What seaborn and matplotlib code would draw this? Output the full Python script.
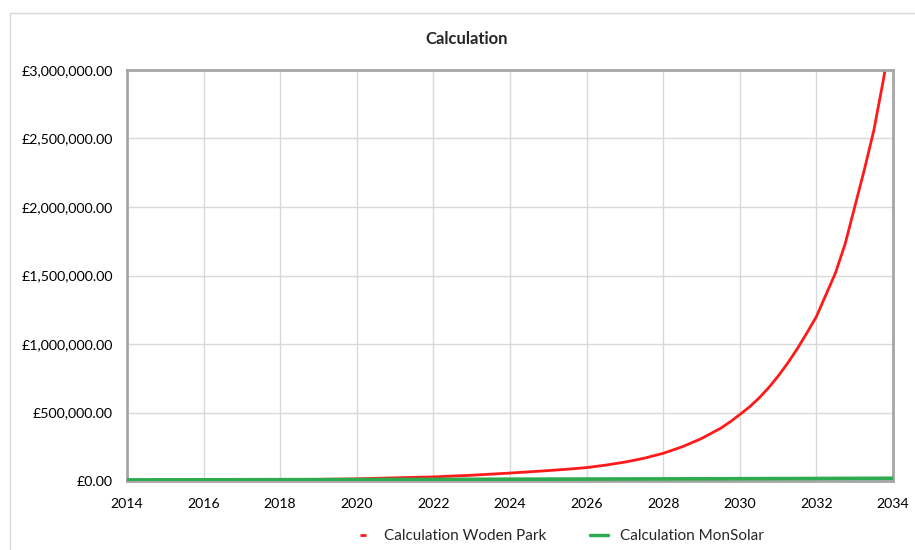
import matplotlib
matplotlib.use("Agg")
import matplotlib.pyplot as plt
import matplotlib.ticker as mticker
from matplotlib.lines import Line2D
from matplotlib.patches import Rectangle
import pandas as pd
import seaborn as sns

# ---- data ----
woden_years = [2014, 2016, 2018, 2020, 2022, 2023, 2024, 2025, 2025.5, 2026, 2026.5,
               2027, 2027.5, 2028, 2028.5, 2029, 2029.5, 2029.75, 2030, 2030.25,
               2030.5, 2030.75, 2031, 2031.25, 2031.5, 2031.75, 2032, 2032.25,
               2032.5, 2032.75, 2033, 2033.25, 2033.5, 2033.75, 2034]
woden_values = [2000, 4000, 8000, 16000, 30000, 42000, 58000, 76000, 86000, 98000,
                116000, 138000, 166000, 202000, 250000, 310000, 385000, 432000,
                485000, 540000, 605000, 680000, 765000, 860000, 965000, 1080000,
                1200000, 1360000, 1520000, 1730000, 2000000, 2270000, 2560000,
                2930000, 3350000]
mon_years = [2014, 2019, 2024, 2029, 2034]
mon_values = [8000, 10000, 13000, 16000, 20000]
series_names = ["Calculation Woden Park", "Calculation MonSolar"]
x_ticks = list(range(2014, 2035, 2))
y_ticks = [0, 500000, 1000000, 1500000, 2000000, 2500000, 3000000]
title = "Calculation"

df = pd.concat([
    pd.DataFrame({"Year": woden_years, "Value": woden_values, "Series": series_names[0]}),
    pd.DataFrame({"Year": mon_years, "Value": mon_values, "Series": series_names[1]}),
])

sns.set_style("white")
plt.rcParams["font.family"] = ["Lato", "DejaVu Sans"]

RED = "#ff1a1a"
GREEN = "#2eaa4f"

fig = plt.figure(figsize=(9.15, 5.5), dpi=100)
ax = fig.add_axes([127 / 915, 1 - 481 / 550, (893 - 127) / 915, (481 - 70) / 550])

# outer chart border
fig.patches.append(Rectangle((10 / 915, -0.1), 1.2, 1 - 13 / 550 + 0.1,
                             transform=fig.transFigure, fill=False,
                             edgecolor="#d9d9d9", linewidth=1.0, zorder=0))

sns.lineplot(data=df, x="Year", y="Value", hue="Series",
             palette={series_names[0]: RED, series_names[1]: GREEN},
             ax=ax, legend=False, estimator=None, sort=True)
lines = ax.get_lines()
lines[0].set_linewidth(2.0)
lines[0].set_solid_joinstyle("round")
lines[1].set_linewidth(2.6)
lines[1].set_zorder(3)

ax.set_xlim(2014, 2034)
ax.set_ylim(0, 3000000)
ax.set_xticks(x_ticks)
ax.set_yticks(y_ticks)
ax.yaxis.set_major_formatter(mticker.FuncFormatter(lambda v, p: f"£{v:,.2f}"))
ax.xaxis.set_major_formatter(mticker.FuncFormatter(lambda v, p: f"{int(round(v))}"))
ax.grid(True, color="#d9d9d9", linewidth=1.0)
ax.set_axisbelow(True)
ax.set_xlabel("")
ax.set_ylabel("")
ax.tick_params(axis="both", length=0, labelsize=10.2, colors="#000000")
ax.tick_params(axis="y", pad=10)
ax.tick_params(axis="x", pad=12)
for s in ax.spines.values():
    s.set_visible(True)
    s.set_color("#a6a6a6")
    s.set_linewidth(2.0)

fig.text(467 / 915, 1 - 39 / 550, title, ha="center", va="center",
         fontsize=12, fontweight="bold")

handles = [
    Line2D([], [], color=RED, marker="_", markersize=5, markeredgewidth=2, linestyle="None"),
    Line2D([], [], color=GREEN, linewidth=2.5),
]
fig.legend(handles, series_names, loc="center", ncol=2,
           bbox_to_anchor=(559 / 915, 1 - 536 / 550), frameon=False,
           fontsize=11, handlelength=1.2, handletextpad=0.8, columnspacing=2.8)

fig.savefig("out.png", dpi=100)
